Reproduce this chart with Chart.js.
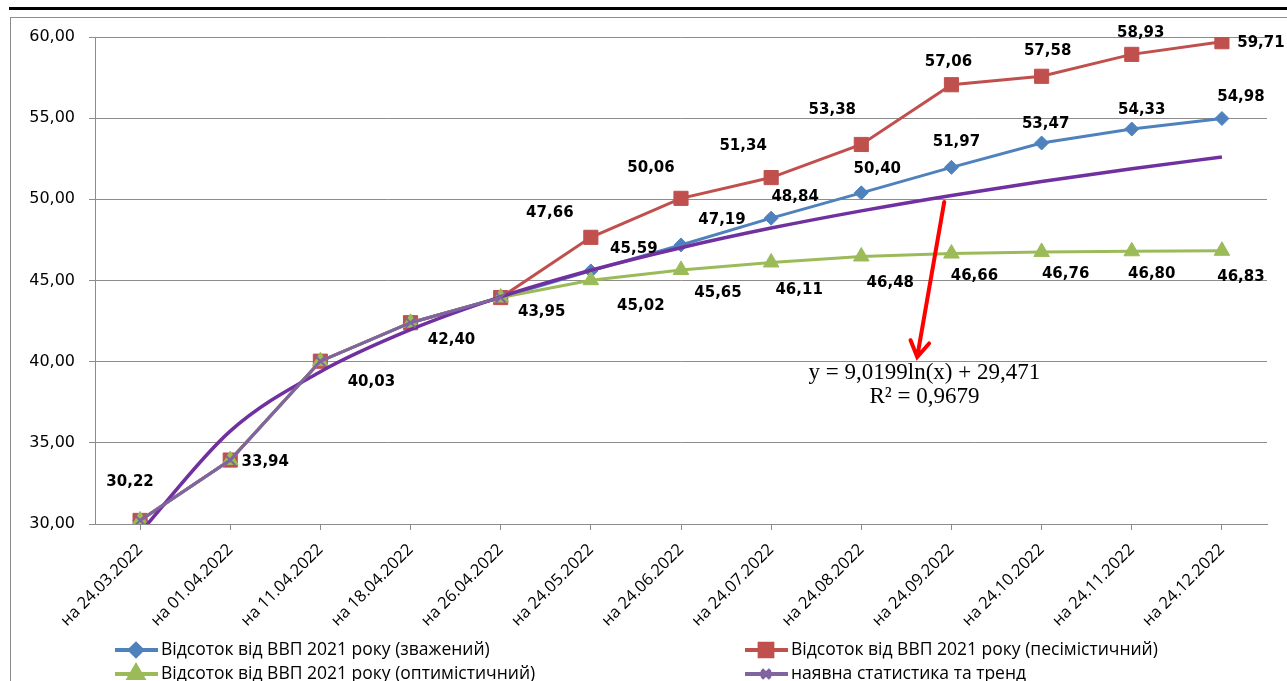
<!DOCTYPE html>
<html>
<head>
<meta charset="utf-8">
<script src="https://cdn.jsdelivr.net/npm/chart.js@4.4.1/dist/chart.umd.min.js"></script>
<style>
  body { margin: 0; background: #fff; overflow: hidden; }
  #wrap { position: relative; width: 1287px; height: 681px; }
  #topline { position: absolute; left: 9px; top: 7px; right: 0; height: 3px; background: #000; }
  #frame { position: absolute; left: 10px; top: 17px; width: 1300px; height: 700px; border: 1px solid #8c8c8c; }
  canvas { position: absolute; left: 0; top: 0; }
</style>
</head>
<body>
<div id="wrap">
  <div id="topline"></div>
  <div id="frame"></div>
  <canvas id="chart" width="1287" height="681"></canvas>
</div>
<script>
// дати (категорії)
const dates = ["на 24.03.2022", "на 01.04.2022", "на 11.04.2022", "на 18.04.2022", "на 26.04.2022",
  "на 24.05.2022", "на 24.06.2022", "на 24.07.2022", "на 24.08.2022", "на 24.09.2022",
  "на 24.10.2022", "на 24.11.2022", "на 24.12.2022"];

// сценарії, % від ВВП 2021 року
const weighted    = [30.22, 33.94, 40.03, 42.40, 43.95, 45.59, 47.19, 48.84, 50.40, 51.97, 53.47, 54.33, 54.98];
const pessimistic = [30.22, 33.94, 40.03, 42.40, 43.95, 47.66, 50.06, 51.34, 53.38, 57.06, 57.58, 58.93, 59.71];
const optimistic  = [30.22, 33.94, 40.03, 42.40, 43.95, 45.02, 45.65, 46.11, 46.48, 46.66, 46.76, 46.80, 46.83];
const statistics  = [30.22, 33.94, 40.03, 42.40, 43.95];
// логарифмічний тренд, значення
const trend       = [29.47, 35.72, 39.38, 41.97, 43.99, 45.63, 47.02, 48.23, 49.29, 50.24, 51.10, 51.88, 52.61];

const yTicks = [30, 35, 40, 45, 50, 55, 60];
const trendText = ["y = 9,0199ln(x) + 29,471", "R² = 0,9679"];

const fmt = v => v.toFixed(2).replace(".", ",");

// зсуви підписів даних (пікселі) відносно точки
const labelOffsets = {
  0: [null, null, null, null, null, [43, -22], [41, -25], [24, -21], [16, -24], [5, -25], [4, -19], [10, -19], [19, -21]],
  1: [null, null, null, null, null, [-41, -24], [-30, -30], [-28, -31], [-29, -34], [-3, -23], [6, -25], [9, -21], [39, 1]],
  2: [null, null, null, null, null, [50, 26], [37, 23], [28, 28], [29, 27], [23, 23], [24, 22], [20, 23], [19, 26]],
  3: [[-10, -38], [35, 2], [51, 21], [41, 17], [41, 15]]
};

// підписи значень
const dataLabels = {
  id: "dataLabels",
  afterDatasetsDraw(chart) {
    const ctx = chart.ctx;
    ctx.save();
    ctx.font = "bold 15px 'DejaVu Sans'";
    ctx.fillStyle = "#000";
    ctx.textAlign = "center";
    ctx.textBaseline = "middle";
    Object.keys(labelOffsets).forEach(di => {
      const meta = chart.getDatasetMeta(+di);
      const data = chart.data.datasets[di].data;
      labelOffsets[di].forEach((off, i) => {
        if (!off) return;
        const p = meta.data[i];
        ctx.fillText(fmt(data[i]), p.x + off[0], p.y + off[1]);
      });
    });
    ctx.restore();
  }
};

// стрілка та рівняння тренду
const trendNote = {
  id: "trendNote",
  afterDraw(chart) {
    const { ctx, scales: { x, y } } = chart;
    const x1 = x.getPixelForValue(8.92), y1 = y.getPixelForValue(49.84);
    const x2 = x.getPixelForValue(8.62), y2 = y.getPixelForValue(40.29);
    ctx.save();
    ctx.strokeStyle = "#ff0000";
    ctx.lineWidth = 4;
    ctx.lineCap = "round";
    ctx.beginPath();
    ctx.moveTo(x1, y1);
    ctx.lineTo(x2, y2);
    const a = Math.atan2(y2 - y1, x2 - x1);
    const len = 18;
    ctx.moveTo(x2 - len * Math.cos(a - 0.55), y2 - len * Math.sin(a - 0.55));
    ctx.lineTo(x2, y2);
    ctx.lineTo(x2 - len * Math.cos(a + 0.55), y2 - len * Math.sin(a + 0.55));
    ctx.stroke();

    ctx.fillStyle = "#000";
    ctx.font = "23px 'Liberation Serif'";
    ctx.textAlign = "center";
    ctx.textBaseline = "middle";
    const tx = x.getPixelForValue(8.70);
    ctx.fillText(trendText[0], tx, y.getPixelForValue(39.30));
    ctx.fillText(trendText[1], tx, y.getPixelForValue(37.82));
    ctx.restore();
  }
};

// легенда у дві колонки
const gridLegend = {
  id: "gridLegend",
  afterDraw(chart) {
    const ctx = chart.ctx;
    const cols = [115, 745], rows = [650, 674];
    ctx.save();
    ctx.font = "17.5px 'Open Sans'";
    ctx.textBaseline = "middle";
    ctx.textAlign = "left";
    chart.data.datasets.forEach((ds, i) => {
      if (ds.hideInLegend) return;
      const lx = cols[i % 2], ly = rows[Math.floor(i / 2)];
      ctx.strokeStyle = ds.borderColor;
      ctx.lineWidth = 4;
      ctx.beginPath();
      ctx.moveTo(lx, ly);
      ctx.lineTo(lx + 43, ly);
      ctx.stroke();
      Chart.helpers.drawPoint(ctx, {
        pointStyle: ds.pointStyle,
        radius: ds.pointRadius - 1,
        borderWidth: ds.pointBorderWidth || 1,
        rotation: 0
      }, lx + 21, ly);
      ctx.fillStyle = ds.pointBackgroundColor;
      ctx.strokeStyle = ds.borderColor;
      ctx.lineWidth = ds.pointBorderWidth || 1;
      ctx.fill();
      ctx.stroke();
      ctx.fillStyle = "#000";
      ctx.fillText(ds.label, lx + 46, ly);
    });
    ctx.restore();
  }
};

const chart = new Chart(document.getElementById("chart"), {
  type: "line",
  data: {
    labels: dates,
    datasets: [
      {
        label: "Відсоток від ВВП 2021 року (зважений)",
        data: weighted,
        borderColor: "#4f81bd",
        pointBackgroundColor: "#4f81bd",
        pointBorderColor: "#4f81bd",
        borderWidth: 3,
        pointStyle: "rectRot",
        pointRadius: 7,
        pointBorderWidth: 1,
        order: 4
      },
      {
        label: "Відсоток від ВВП 2021 року (песімістичний)",
        data: pessimistic,
        borderColor: "#c0504d",
        pointBackgroundColor: "#c0504d",
        pointBorderColor: "#c0504d",
        borderWidth: 3,
        pointStyle: "rect",
        pointRadius: 10,
        pointBorderWidth: 1,
        order: 3
      },
      {
        label: "Відсоток від ВВП 2021 року (оптимістичний)",
        data: optimistic,
        borderColor: "#9bbb59",
        pointBackgroundColor: "#9bbb59",
        pointBorderColor: "#9bbb59",
        borderWidth: 3,
        pointStyle: "triangle",
        pointRadius: 9,
        pointBorderWidth: 1,
        order: 2
      },
      {
        label: "наявна статистика та тренд",
        data: statistics,
        borderColor: "#8064a2",
        pointBackgroundColor: "#8064a2",
        pointBorderColor: "#8064a2",
        borderWidth: 3,
        pointStyle: "crossRot",
        pointRadius: 7,
        pointBorderWidth: 2,
        order: 0
      },
      {
        label: "тренд",
        data: trend,
        borderColor: "#7030a0",
        borderWidth: 3.5,
        pointRadius: 0,
        cubicInterpolationMode: "monotone",
        hideInLegend: true,
        order: 1
      }
    ]
  },
  options: {
    responsive: false,
    animation: false,
    layout: { padding: { top: 37, left: 10, right: 20, bottom: 0 } },
    plugins: {
      legend: { display: false },
      tooltip: { enabled: false }
    },
    scales: {
      x: {
        offset: true,
        grid: { drawOnChartArea: false, drawTicks: true, tickLength: 6, color: "#8c8c8c" },
        border: { color: "#8c8c8c" },
        ticks: {
          autoSkip: false,
          minRotation: 45,
          maxRotation: 45,
          padding: 10,
          color: "#000",
          font: { family: "'Open Sans'", size: 16.5 }
        },
        afterFit(s) { s.height = 157; }
      },
      y: {
        min: yTicks[0],
        max: yTicks[yTicks.length - 1],
        afterBuildTicks(s) { s.ticks = yTicks.map(v => ({ value: v })); },
        grid: { color: "#8c8c8c", tickLength: 6 },
        border: { color: "#8c8c8c" },
        ticks: {
          padding: 14,
          color: "#000",
          font: { family: "'DejaVu Sans'", size: 16 },
          callback: v => fmt(v)
        },
        afterFit(s) { s.width = 85; }
      }
    }
  },
  plugins: [dataLabels, trendNote, gridLegend]
});
</script>
</body>
</html>
